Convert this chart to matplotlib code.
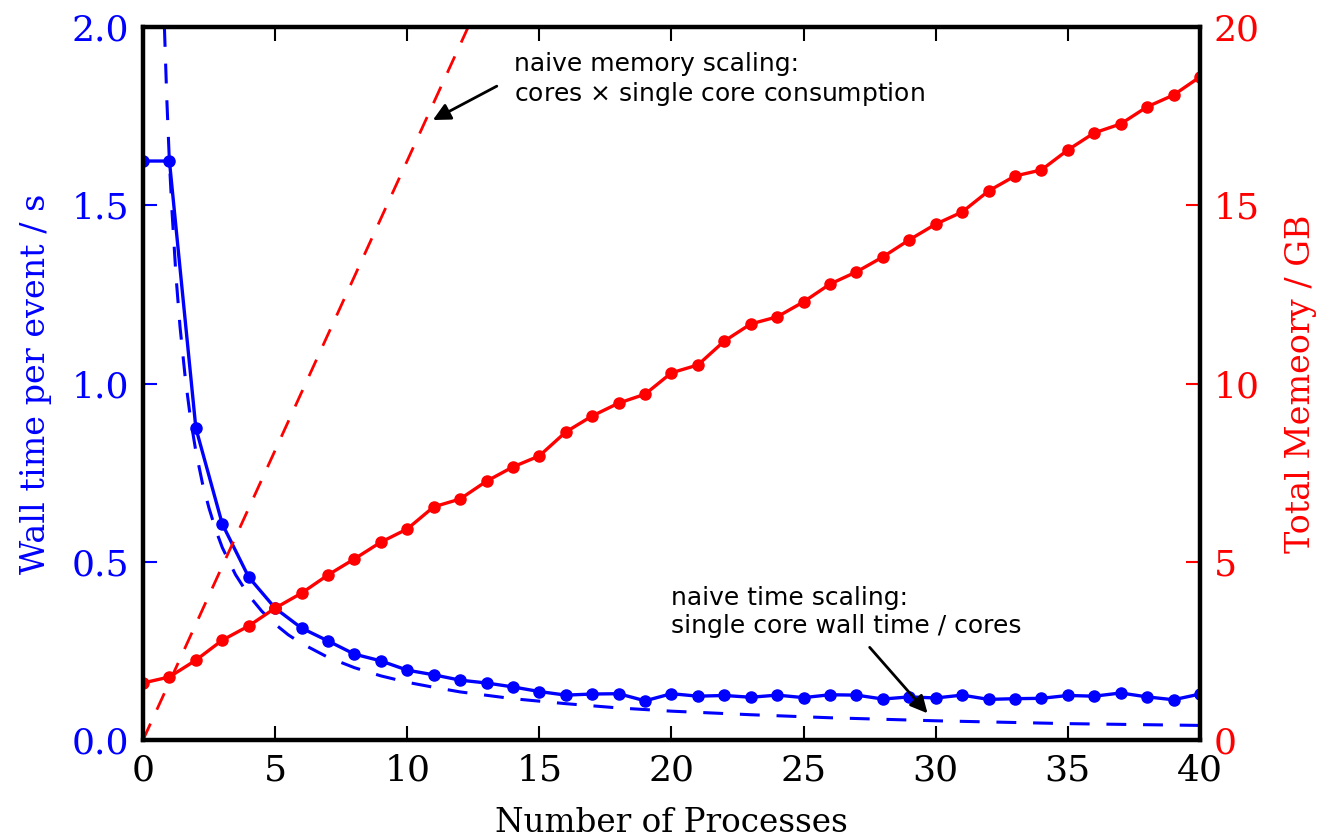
import numpy as np
import matplotlib.pyplot as plt

procs = list(range(0, 41))
wall_time = [1.624, 1.624, 0.875, 0.606, 0.457, 0.370, 0.314, 0.278, 0.241, 0.222,
             0.196, 0.183, 0.168, 0.160, 0.149, 0.136, 0.126, 0.129, 0.130, 0.110,
             0.130, 0.123, 0.125, 0.120, 0.126, 0.119, 0.127, 0.126, 0.115, 0.121,
             0.118, 0.126, 0.114, 0.116, 0.117, 0.125, 0.123, 0.132, 0.121, 0.113,
             0.129]
memory = [1.60, 1.77, 2.24, 2.80, 3.20, 3.70, 4.12, 4.63, 5.08, 5.55,
          5.92, 6.54, 6.76, 7.26, 7.66, 7.97, 8.64, 9.09, 9.45, 9.70,
          10.30, 10.52, 11.19, 11.67, 11.87, 12.29, 12.79, 13.13, 13.55, 14.03,
          14.47, 14.81, 15.40, 15.82, 15.99, 16.55, 17.03, 17.28, 17.76, 18.09,
          18.60]

# naive scaling curves (dashed)
naive_time_x = [0.81, 0.9, 1.0, 1.1, 1.25, 1.4, 1.6, 1.8, 2.0, 2.25, 2.5, 2.75, 3.0,
                3.5, 4.0, 4.5, 5.0, 5.5, 6.0, 7.0, 8.0, 9.0, 10.0, 11.0, 12.0, 14.0,
                16.0, 18.0, 20.0, 23.0, 26.0, 30.0, 35.0, 40.0]
naive_time_y = [2.00, 1.80, 1.62, 1.48, 1.30, 1.16, 1.015, 0.90, 0.81, 0.72, 0.65,
                0.59, 0.54, 0.464, 0.406, 0.361, 0.325, 0.295, 0.271, 0.232, 0.203,
                0.180, 0.162, 0.148, 0.135, 0.116, 0.102, 0.090, 0.081, 0.071,
                0.0625, 0.054, 0.046, 0.041]
naive_mem_x = [0, 40]
naive_mem_y = [0, 65.0]

plt.rcParams['font.family'] = 'DejaVu Serif'

fig = plt.figure(figsize=(13.29, 8.4), dpi=100)
ax = fig.add_axes([0.1076, 0.119, 0.7953, 0.8489])
ax2 = ax.twinx()

ax.plot(procs, wall_time, '-o', color='blue', lw=2.4, ms=8, zorder=3)
ax.plot(naive_time_x, naive_time_y, color='blue', lw=2.2, ls=(0, (6.5, 5.5)))
ax2.plot(procs, memory, '-o', color='red', lw=2.4, ms=8)
ax2.plot(naive_mem_x, naive_mem_y, color='red', lw=2.0, ls=(0, (6.5, 5.5)))

ax.set_xlim(0, 40)
ax.set_ylim(0, 2.0)
ax2.set_ylim(0, 20)
ax.set_xticks(range(0, 41, 5))
ax.set_yticks([0.0, 0.5, 1.0, 1.5, 2.0])
ax2.set_yticks([0, 5, 10, 15, 20])

for sp in ax2.spines.values():
    sp.set_linewidth(3.2)
ax.tick_params(axis='x', direction='in', length=10, width=1.5, top=True,
               labelsize=26, pad=10)
ax.tick_params(axis='y', direction='in', length=10, width=1.5, colors='blue',
               labelsize=26, pad=10)
ax2.tick_params(axis='y', direction='in', length=10, width=1.5, colors='red',
                labelsize=26, pad=10)

ax.set_xlabel('Number of Processes', fontsize=23.5, labelpad=14)
ax.set_ylabel('Wall time per event / s', fontsize=24, color='blue', labelpad=14)
ax2.set_ylabel('Total Memeory / GB', fontsize=24, color='red', labelpad=18)

ax2.annotate('', xy=(10.97, 17.39), xytext=(13.39, 18.34),
             arrowprops=dict(arrowstyle='-|>', color='black', lw=2,
                             mutation_scale=26, shrinkA=0, shrinkB=0))
ax2.text(14.04, 18.51, 'naive memory scaling:\ncores $\\times$ single core consumption',
         family='DejaVu Sans', fontsize=18, ha='left', va='center', linespacing=1.2)

ax.annotate('', xy=(29.69, 0.075), xytext=(27.5, 0.26),
            arrowprops=dict(arrowstyle='-|>', color='black', lw=2,
                            mutation_scale=26, shrinkA=0, shrinkB=0))
ax.text(20.0, 0.359, 'naive time scaling:\nsingle core wall time / cores',
        family='DejaVu Sans', fontsize=18, ha='left', va='center', linespacing=1.2)

fig.savefig('out.png', dpi=100)
